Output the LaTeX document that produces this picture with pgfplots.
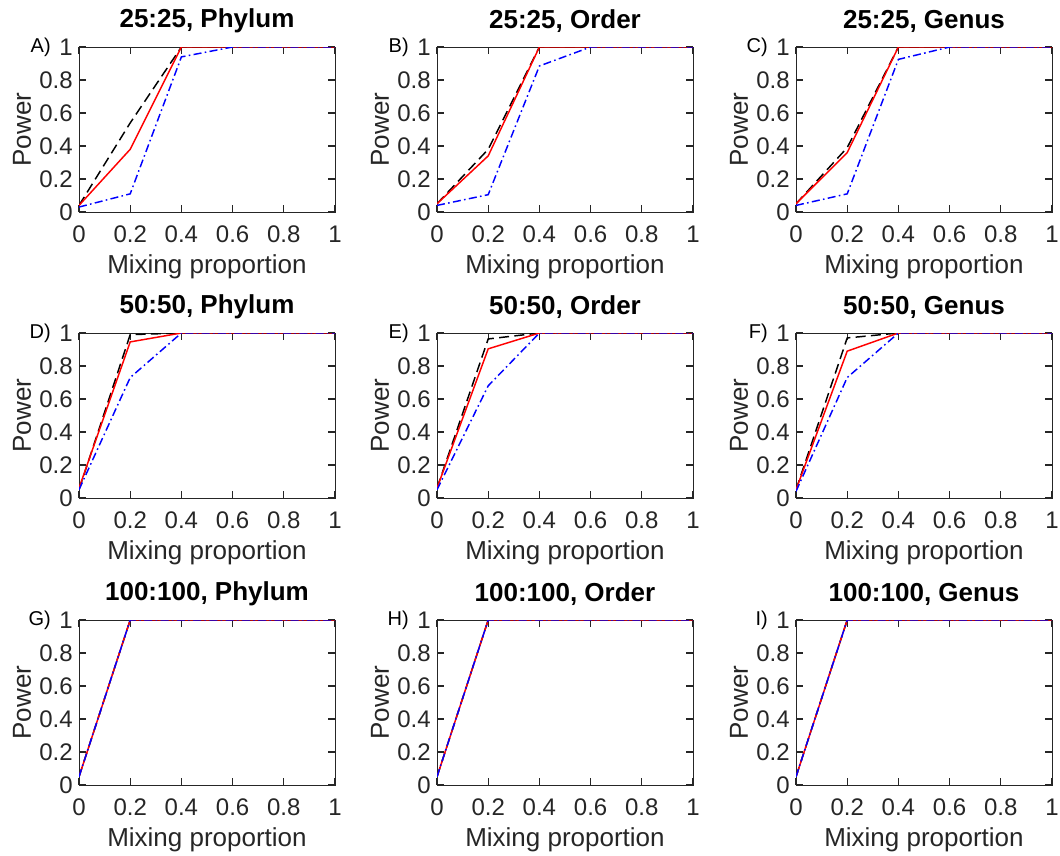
\documentclass[border=0pt]{standalone}
\usepackage{fontspec}
\setmainfont{Liberation Sans}
\usepackage{pgfplots}
\usepackage{pgfplotstable}
\pgfplotsset{compat=1.18}

\definecolor{axgray}{gray}{0.15}

% columns: mixing proportion, black dashed, red solid, blue dash-dot
\pgfplotstableread{
x k r b
0 0.04 0.04 0.03
0.2 0.54 0.38 0.11
0.4 1 1 0.94
0.6 1 1 1
0.8 1 1 1
1 1 1 1
}\tA
\pgfplotstableread{
x k r b
0 0.05 0.05 0.04
0.2 0.38 0.34 0.105
0.4 1 1 0.885
0.6 1 1 1
0.8 1 1 1
1 1 1 1
}\tB
\pgfplotstableread{
x k r b
0 0.05 0.05 0.04
0.2 0.39 0.36 0.11
0.4 1 1 0.925
0.6 1 1 1
0.8 1 1 1
1 1 1 1
}\tC
\pgfplotstableread{
x k r b
0 0.05 0.06 0.05
0.2 0.99 0.946 0.73
0.4 1 1 1
0.6 1 1 1
0.8 1 1 1
1 1 1 1
}\tD
\pgfplotstableread{
x k r b
0 0.06 0.06 0.05
0.2 0.964 0.904 0.68
0.4 1 1 1
0.6 1 1 1
0.8 1 1 1
1 1 1 1
}\tE
\pgfplotstableread{
x k r b
0 0.05 0.05 0.04
0.2 0.97 0.89 0.73
0.4 1 1 1
0.6 1 1 1
0.8 1 1 1
1 1 1 1
}\tF
\pgfplotstableread{
x k r b
0 0.05 0.05 0.05
0.2 1 1 1
0.4 1 1 1
0.6 1 1 1
0.8 1 1 1
1 1 1 1
}\tG

\pgfplotsset{
  panel/.style={
    scale only axis, width=192pt, height=123.75pt,
    anchor=south west, clip mode=individual,
    xmin=0, xmax=1, ymin=0, ymax=1,
    xtick={0,0.2,0.4,0.6,0.8,1}, ytick={0,0.2,0.4,0.6,0.8,1},
    xtick pos=both, ytick pos=both, xtick align=inside, ytick align=inside,
    major tick length=5pt,
    axis line style={axgray, line width=0.7pt},
    xtick style={draw=axgray, line width=1pt},
    ytick style={draw=axgray, line width=1pt},
    /pgf/number format/assume math mode=true,
    ticklabel style={font=\fontsize{18}{18}\selectfont, text=axgray, inner sep=0pt},
    xticklabel style={anchor=center, yshift=-17pt},
    yticklabel style={anchor=east, xshift=-4.5pt},
    xlabel={Mixing proportion}, ylabel={Power},
    label style={font=\fontsize{19.5}{20}\selectfont, text=axgray, inner sep=0pt},
    xlabel style={at={([yshift=-41pt]axis description cs:0.5,0)}, anchor=center},
    ylabel style={at={([xshift=-42.75pt]axis description cs:0,0.5)}, anchor=center},
    title style={font=\bfseries\fontsize{19.5}{20}\selectfont, inner sep=0pt,
      at={([yshift=13.5pt]axis description cs:0.5,1)}, anchor=center},
  },
  kline/.style={black, line width=1.1pt, dash pattern=on 7.5pt off 4pt},
  rline/.style={red, line width=1.1pt},
  bline/.style={blue, line width=1.1pt, dash pattern=on 6pt off 2.5pt on 1.2pt off 2.5pt},
}

\newcommand{\panel}[5]{%
  \begin{axis}[panel, at={(#1,#2)}, title={#3}]
    \addplot[kline] table[x=x, y=k] {#5};
    \addplot[rline] table[x=x, y=r] {#5};
    \addplot[bline] table[x=x, y=b] {#5};
    \node[anchor=east, inner sep=0pt, xshift=-21pt,
      font=\fontsize{15}{15}\selectfont] at (axis description cs:0,1) {#4};
  \end{axis}}

\begin{document}
\begin{tikzpicture}
\useasboundingbox (0,0) rectangle (795pt,-642pt);

\panel{59.25pt}{-159pt}{25:25, Phylum}{A)}{\tA}
\panel{327.75pt}{-159pt}{25:25, Order}{B)}{\tB}
\panel{597pt}{-159pt}{25:25, Genus}{C)}{\tC}

\panel{59.25pt}{-373.5pt}{50:50, Phylum}{D)}{\tD}
\panel{327.75pt}{-373.5pt}{50:50, Order}{E)}{\tE}
\panel{597pt}{-373.5pt}{50:50, Genus}{F)}{\tF}

\panel{59.25pt}{-588.75pt}{100:100, Phylum}{G)}{\tG}
\panel{327.75pt}{-588.75pt}{100:100, Order}{H)}{\tG}
\panel{597pt}{-588.75pt}{100:100, Genus}{I)}{\tG}
\end{tikzpicture}
\end{document}
